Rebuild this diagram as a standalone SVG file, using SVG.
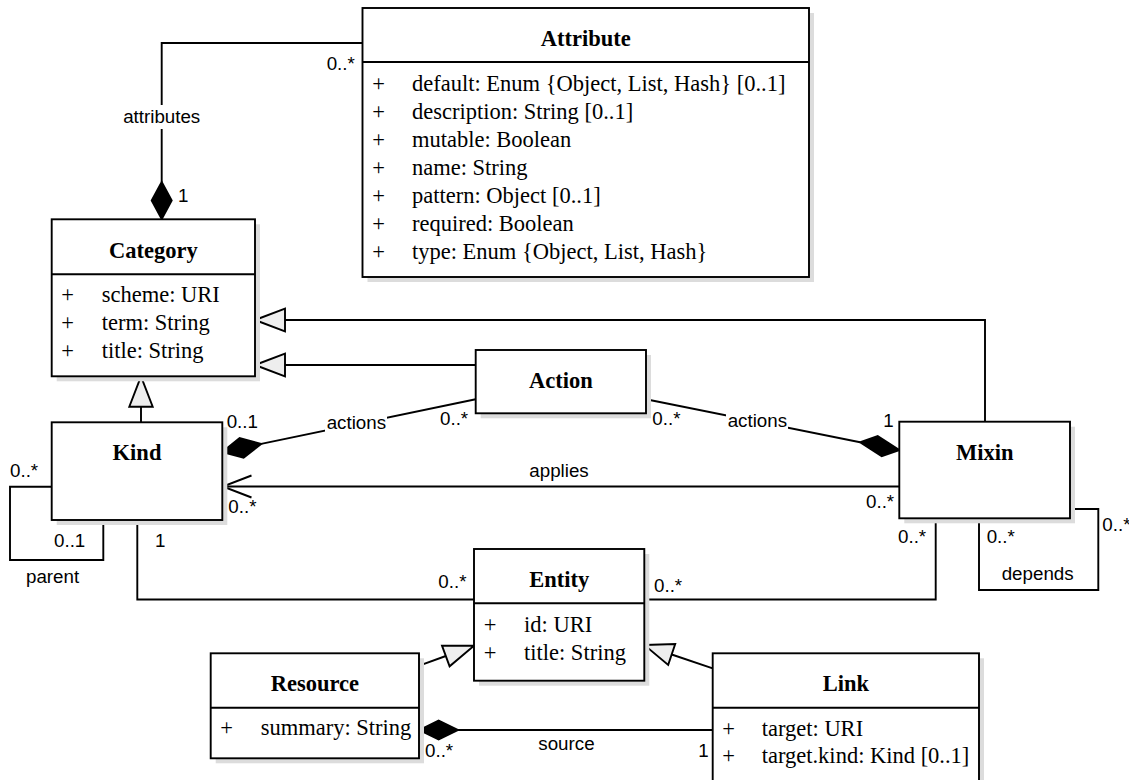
<svg xmlns="http://www.w3.org/2000/svg" width="1129" height="780" viewBox="0 0 1129 780">
<style>
.box{fill:#fff;stroke:#000;stroke-width:1.9}
.sh{fill:#dcdcdc;stroke:none}
.div{stroke:#000;stroke-width:1.9;fill:none}
.ln{stroke:#000;stroke-width:1.9;fill:none}
.tri{fill:#eeeeee;stroke:#000;stroke-width:1.9;stroke-linejoin:miter}
.dia{fill:#000;stroke:#000;stroke-width:1.9}
.t{font-family:"Liberation Serif","Times New Roman",serif;font-size:22.5px;fill:#000}
.tb{font-family:"Liberation Serif","Times New Roman",serif;font-size:22.5px;font-weight:bold;fill:#000;text-anchor:middle}
.pm{font-family:"Liberation Serif","Times New Roman",serif;font-size:22.5px;fill:#000;text-anchor:middle}
.l{font-family:"Liberation Sans",Arial,sans-serif;font-size:18.75px;fill:#000}
.lm{font-family:"Liberation Sans",Arial,sans-serif;font-size:18.75px;fill:#000;text-anchor:middle}
</style>
<rect width="1129" height="780" fill="#fff"/>

<g id="connectors">
  <!-- attributes composition -->
  <polyline class="ln" points="362.5,43 161.7,43 161.7,182"/>
  <polygon class="dia" points="161.7,219 171.7,200.5 161.7,182 151.7,200.5"/>
  <rect x="120" y="105" width="84" height="24" fill="#fff"/>
  <text class="lm" x="161.7" y="123">attributes</text>
  <text class="l" x="178" y="202">1</text>
  <text class="l" x="326.7" y="70">0..*</text>

  <!-- Mixin generalization to Category -->
  <polyline class="ln" points="285,320 985,320 985,421.7"/>
  <polygon class="tri" points="255,320 285,308.7 285,331.3"/>
  <!-- Action generalization to Category -->
  <line class="ln" x1="285" y1="365" x2="475.7" y2="365"/>
  <polygon class="tri" points="255,365 285,353.7 285,376.3"/>
  <!-- Kind generalization -->
  <line class="ln" x1="141" y1="406.7" x2="141" y2="422.3"/>
  <polygon class="tri" points="141,376.3 129.3,406.7 152.7,406.7"/>

  <!-- Kind - Action actions -->
  <line class="ln" x1="261.2" y1="443.9" x2="475.7" y2="399.3"/>
  <polygon class="dia" points="222.3,452 239.6,438.1 261.2,443.9 243.6,457.7"/>
  <rect x="325" y="412" width="62" height="22" fill="#fff"/>
  <text class="l" x="326.7" y="429.3">actions</text>
  <text class="l" x="226.7" y="427.7">0..1</text>
  <text class="l" x="440" y="425">0..*</text>

  <!-- Action - Mixin actions -->
  <line class="ln" x1="646" y1="399.3" x2="860.1" y2="442.2"/>
  <polygon class="dia" points="899.3,450 881.7,456.3 860.1,442.2 877.7,436.1"/>
  <rect x="726" y="409" width="62" height="22" fill="#fff"/>
  <text class="l" x="727.7" y="426.7">actions</text>
  <text class="l" x="652.3" y="425">0..*</text>
  <text class="l" x="883.3" y="427.3">1</text>

  <!-- applies -->
  <line class="ln" x1="899.3" y1="486.5" x2="222.3" y2="486.5"/>
  <polyline class="ln" points="251.5,475.5 222.8,486.5 251.5,497.5"/>
  <text class="l" x="529.3" y="476.7">applies</text>
  <text class="l" x="228.3" y="513.3">0..*</text>
  <text class="l" x="866" y="508.3">0..*</text>

  <!-- Kind parent self loop -->
  <polyline class="ln" points="51.7,486.7 10,486.7 10,560 103.3,560 103.3,520"/>
  <text class="l" x="10" y="476.7">0..*</text>
  <text class="l" x="54" y="546.7">0..1</text>
  <text class="l" x="26" y="582.7">parent</text>

  <!-- Kind - Entity -->
  <polyline class="ln" points="137.3,520 137.3,599.5 474,599.5"/>
  <text class="l" x="155" y="546.7">1</text>
  <text class="l" x="438.3" y="588.3">0..*</text>

  <!-- Mixin - Entity -->
  <polyline class="ln" points="644.3,599.5 935.7,599.5 935.7,518.3"/>
  <text class="l" x="654" y="591.7">0..*</text>
  <text class="l" x="898" y="543.3">0..*</text>

  <!-- Mixin depends self loop -->
  <polyline class="ln" points="979,518.3 979,590 1098.3,590 1098.3,509 1070,509"/>
  <text class="l" x="986.7" y="543.3">0..*</text>
  <text class="l" x="1102.3" y="530.7">0..*</text>
  <text class="l" x="1001.7" y="580">depends</text>

  <!-- Resource generalization -->
  <line class="ln" x1="419.3" y1="665.7" x2="445.8" y2="656"/>
  <polygon class="tri" points="474,645.7 442,645.7 449.6,666.3"/>
  <!-- Link generalization -->
  <line class="ln" x1="712.7" y1="668.3" x2="671.7" y2="654.5"/>
  <polygon class="tri" points="644.3,645 675.2,644.1 668.2,664.9"/>

  <!-- source -->
  <line class="ln" x1="712.7" y1="730" x2="458" y2="730"/>
  <polygon class="dia" points="419.3,730 438.6,720.5 458,730 438.6,739.5"/>
  <text class="l" x="538.3" y="750">source</text>
  <text class="l" x="698.3" y="756.7">1</text>
  <text class="l" x="425" y="756.7">0..*</text>
</g>

<g id="attribute">
  <rect class="sh" x="367.5" y="13" width="446.5" height="269"/>
  <rect class="box" x="362.5" y="8" width="446.5" height="269"/>
  <line class="div" x1="362.5" y1="62" x2="809" y2="62"/>
  <text class="tb" x="585.7" y="45.5">Attribute</text>
  <text class="pm" x="378.5" y="91">+</text><text class="t" x="412" y="91">default: Enum {Object, List, Hash} [0..1]</text>
  <text class="pm" x="378.5" y="119">+</text><text class="t" x="412" y="119">description: String [0..1]</text>
  <text class="pm" x="378.5" y="147">+</text><text class="t" x="412" y="147">mutable: Boolean</text>
  <text class="pm" x="378.5" y="175">+</text><text class="t" x="412" y="175">name: String</text>
  <text class="pm" x="378.5" y="203">+</text><text class="t" x="412" y="203">pattern: Object [0..1]</text>
  <text class="pm" x="378.5" y="231">+</text><text class="t" x="412" y="231">required: Boolean</text>
  <text class="pm" x="378.5" y="259">+</text><text class="t" x="412" y="259">type: Enum {Object, List, Hash}</text>
</g>

<g id="category">
  <rect class="sh" x="56.7" y="224.3" width="203.3" height="157"/>
  <rect class="box" x="51.7" y="219.3" width="203.3" height="157"/>
  <line class="div" x1="51.7" y1="274.3" x2="255" y2="274.3"/>
  <text class="tb" x="153.3" y="258.3">Category</text>
  <text class="pm" x="67.7" y="302">+</text><text class="t" x="101.7" y="302">scheme: URI</text>
  <text class="pm" x="67.7" y="330">+</text><text class="t" x="101.7" y="330">term: String</text>
  <text class="pm" x="67.7" y="358">+</text><text class="t" x="101.7" y="358">title: String</text>
</g>

<g id="action">
  <rect class="sh" x="480.7" y="355" width="170.3" height="63.3"/>
  <rect class="box" x="475.7" y="350" width="170.3" height="63.3"/>
  <text class="tb" x="560.8" y="388.3">Action</text>
</g>

<g id="kind">
  <rect class="sh" x="56.7" y="427.3" width="170.6" height="97.7"/>
  <rect class="box" x="51.7" y="422.3" width="170.6" height="97.7"/>
  <text class="tb" x="137" y="460">Kind</text>
</g>

<g id="mixin">
  <rect class="sh" x="904.3" y="426.7" width="170.7" height="96.6"/>
  <rect class="box" x="899.3" y="421.7" width="170.7" height="96.6"/>
  <text class="tb" x="984.7" y="460">Mixin</text>
</g>

<g id="entity">
  <rect class="sh" x="479" y="554" width="170.3" height="131.7"/>
  <rect class="box" x="474" y="549" width="170.3" height="131.7"/>
  <line class="div" x1="474" y1="603.3" x2="644.3" y2="603.3"/>
  <text class="tb" x="559.2" y="586.7">Entity</text>
  <text class="pm" x="490" y="631.7">+</text><text class="t" x="524" y="631.7">id: URI</text>
  <text class="pm" x="490" y="659.5">+</text><text class="t" x="524" y="659.5">title: String</text>
</g>

<g id="resource">
  <rect class="sh" x="215.7" y="658.3" width="208.3" height="105"/>
  <rect class="box" x="210.7" y="653.3" width="208.3" height="105"/>
  <line class="div" x1="210.7" y1="707.7" x2="419" y2="707.7"/>
  <text class="tb" x="314.8" y="691">Resource</text>
  <text class="pm" x="226.7" y="735">+</text><text class="t" x="260.7" y="735">summary: String</text>
</g>

<g id="link">
  <rect class="sh" x="717.7" y="658.3" width="266.3" height="140"/>
  <rect class="box" x="712.7" y="653.3" width="266.3" height="140"/>
  <line class="div" x1="712.7" y1="707.7" x2="979" y2="707.7"/>
  <text class="tb" x="845.8" y="691">Link</text>
  <text class="pm" x="728.5" y="736">+</text><text class="t" x="761.7" y="736">target: URI</text>
  <text class="pm" x="728.5" y="763.3">+</text><text class="t" x="761.7" y="763.3">target.kind: Kind [0..1]</text>
</g>
</svg>
